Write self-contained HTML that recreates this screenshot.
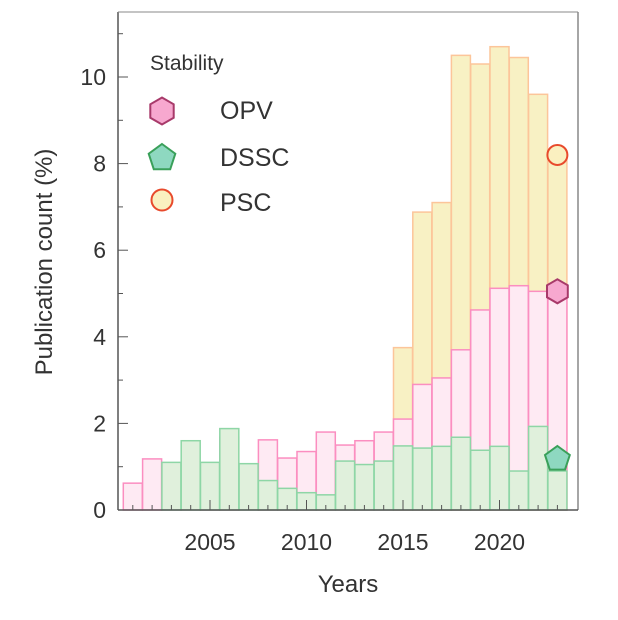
<!DOCTYPE html>
<html><head><meta charset="utf-8"><style>
body{margin:0;background:#fff}
svg text{font-family:"Liberation Sans",sans-serif;fill:#333}
</style></head><body>
<svg id="chart" width="618" height="615" xmlns="http://www.w3.org/2000/svg">
<g id="bars"></g>
<g id="axes"></g>
</svg>
<script>
const years=[2001,2002,2003,2004,2005,2006,2007,2008,2009,2010,2011,2012,2013,2014,2015,2016,2017,2018,2019,2020,2021,2022,2023];
const psc=[0,0,0,0,0,0,0,0,0,0,0,0,0,0,3.75,6.88,7.1,10.5,10.3,10.7,10.45,9.6,8.15];
const opv=[0.62,1.18,0,0,0.6,1.68,0,1.62,1.2,1.35,1.8,1.5,1.6,1.8,2.1,2.9,3.05,3.7,4.62,5.12,5.18,5.05,5.0];
const dssc=[0,0,1.1,1.6,1.1,1.88,1.07,0.68,0.5,0.4,0.35,1.13,1.05,1.13,1.48,1.43,1.47,1.68,1.38,1.47,0.9,1.93,0.9];
const xTicks=[2005,2010,2015,2020];
const yTicks=[0,2,4,6,8,10];
const markerYear=2023, markerPSC=8.2, markerOPV=5.05, markerDSSC=1.2;
const L=118,R=578,T=12,B=510;
const x=y=>210+(y-2005)*19.3;
const yv=v=>B-v*43.3;
const NS="http://www.w3.org/2000/svg";
function el(t,a,p){const e=document.createElementNS(NS,t);for(const k in a)e.setAttribute(k,a[k]);(p||document.getElementById('chart')).appendChild(e);return e;}
const bars=document.getElementById('bars');
function series(vals,fill,stroke,name){vals.forEach((v,i)=>{if(v<=0)return;
 const r=el('rect',{x:x(years[i])-9.5,y:yv(v),width:19,height:B-yv(v),fill:fill,stroke:stroke,'stroke-width':1.5},bars);
 
 });}
series(psc,'#f8f1c4','#fcc59a','psc');
series(opv,'#feeaf3','#fb8ec0','opv');
series(dssc,'#e0f0dc','#8ed6a6','dssc');
const ax=document.getElementById('axes');
el('line',{x1:L,y1:T,x2:L,y2:B,stroke:'#555','stroke-width':1.5},ax);
el('line',{x1:R,y1:T,x2:R,y2:B,stroke:'#888','stroke-width':1.5},ax);
el('line',{x1:L,y1:T,x2:R,y2:T,stroke:'#888','stroke-width':1},ax);
el('line',{x1:L,y1:B,x2:R,y2:B,stroke:'#555','stroke-width':1.5},ax);
for(let v=0;v<=11;v++){el('line',{x1:L,y1:yv(v),x2:L+(v%2?5:10),y2:yv(v),stroke:'#555','stroke-width':1},ax);}
yTicks.forEach(v=>{const t=el('text',{x:L-12,y:yv(v)+8,'text-anchor':'end','font-size':23},ax);t.textContent=v;
 });
for(let yr=2001;yr<=2023;yr++){el('line',{x1:x(yr),y1:B,x2:x(yr),y2:B-(yr%5?5:10),stroke:'#555','stroke-width':1},ax);}
xTicks.forEach(v=>{const t=el('text',{x:x(v),y:550,'text-anchor':'middle','font-size':23},ax);t.textContent=v;
 });
let t=el('text',{x:348,y:592,'text-anchor':'middle','font-size':24},ax);t.textContent='Years';

t=el('text',{x:52,y:262,'text-anchor':'middle','font-size':24,transform:'rotate(-90 52 262)'},ax);t.textContent='Publication count (%)';

function hex(cx,cy,r){let p=[];for(let i=0;i<6;i++){const a=Math.PI/6+i*Math.PI/3;p.push((cx+r*Math.cos(a)).toFixed(1)+','+(cy+r*Math.sin(a)).toFixed(1));}return p.join(' ');}
function pent(cx,cy,r){let p=[];for(let i=0;i<5;i++){const a=-Math.PI/2+i*2*Math.PI/5;p.push((cx+r*Math.cos(a)).toFixed(1)+','+(cy+r*Math.sin(a)).toFixed(1));}return p.join(' ');}
const mx=x(markerYear);
let m=el('circle',{cx:mx,cy:yv(markerPSC),r:10,fill:'#faf0c0',stroke:'#e84a2c','stroke-width':2},ax);

m=el('polygon',{points:hex(mx,yv(markerOPV),12),fill:'#f7a8cf',stroke:'#a83a6a','stroke-width':2},ax);

m=el('polygon',{points:pent(mx,yv(markerDSSC)+1,13),fill:'#8ed8c0',stroke:'#3aa05a','stroke-width':2},ax);

t=el('text',{x:150,y:70,'font-size':21},ax);t.textContent='Stability';

m=el('polygon',{points:hex(162,111,13.5),fill:'#f7a8cf',stroke:'#a83a6a','stroke-width':2},ax);

m=el('polygon',{points:pent(162,158,14),fill:'#8ed8c0',stroke:'#3aa05a','stroke-width':2},ax);

m=el('circle',{cx:162,cy:200,r:10.5,fill:'#faf0c0',stroke:'#e84a2c','stroke-width':2},ax);

[['OPV',119],['DSSC',166],['PSC',211]].forEach(([s,yy])=>{const tt=el('text',{x:220,y:yy,'font-size':25},ax);tt.textContent=s;
 });
</script>
</body></html>
